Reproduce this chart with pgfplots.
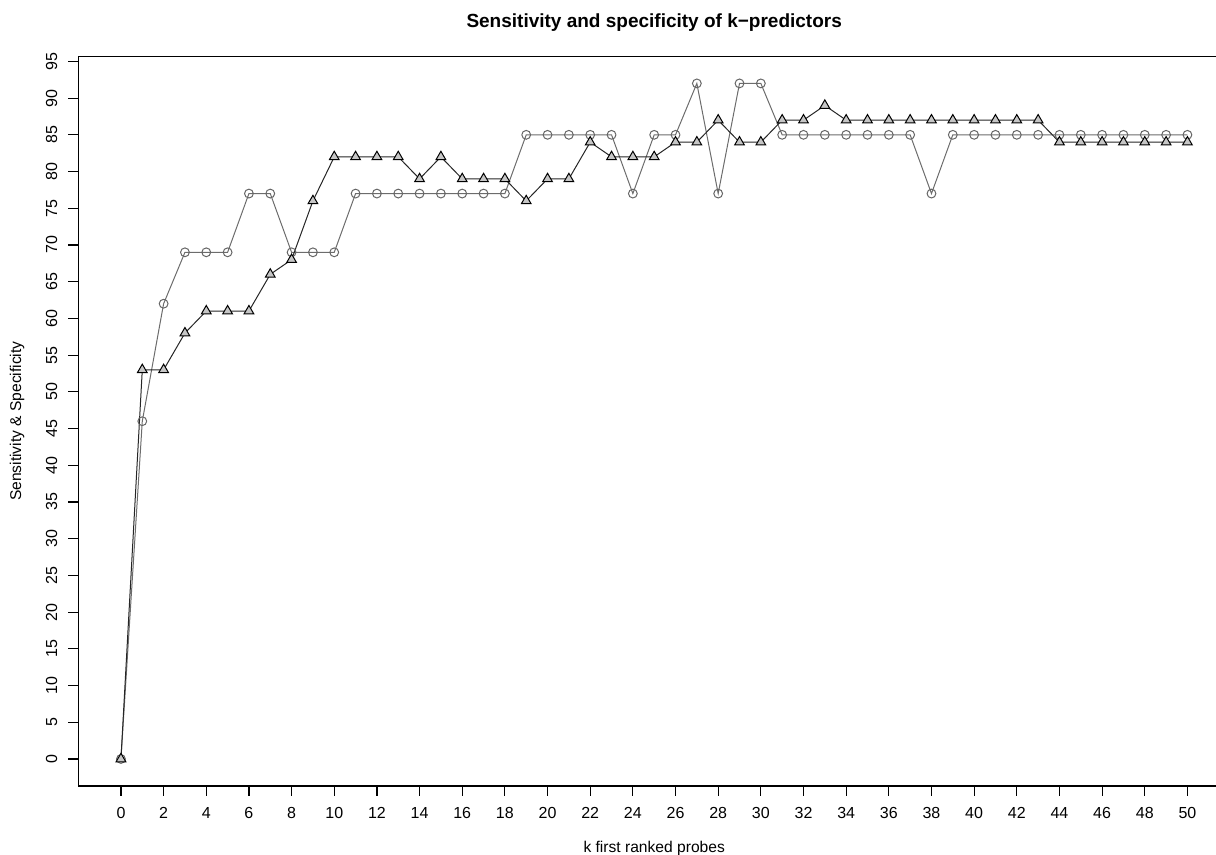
\documentclass[border=0pt]{standalone}
\usepackage{pgfplots}
\pgfplotsset{compat=1.18}
\usepackage{fontspec}
\setmainfont{Liberation Sans}
\begin{document}
\begin{tikzpicture}
\begin{axis}[
  name=ax,
  at={(0,0)}, anchor=south west,
  scale only axis,
  width=575.9pt, height=364.8pt,
  xmin=-2, xmax=52, ymin=-3.68, ymax=95.68,
  xtick={0,2,...,50}, ytick={0,5,...,95},
  xtick pos=bottom, ytick pos=left,
  tick align=outside,
  major tick length=5pt,
  tick style={black, line width=0.6pt},
  axis line style={black, line width=0.7pt},
  /pgf/number format/assume math mode=true,
  ticklabel style={font=\fontsize{8}{9}\selectfont},
  xticklabel style={yshift=-2pt},
  yticklabel style={rotate=90, anchor=south, xshift=0pt, yshift=2pt},
  every axis title shift=0pt,
  title={Sensitivity and specificity of k−predictors},
  title style={font=\fontsize{9.5}{11}\selectfont\bfseries, at={(axis description cs:0.5,1.047)}, anchor=center},
  xlabel={k first ranked probes},
  xlabel style={font=\fontsize{7.8}{9}\selectfont, at={(axis description cs:0.5,-0.0863)}, anchor=center},
  ylabel={Sensitivity \& Specificity},
  ylabel style={font=\fontsize{7.8}{9}\selectfont, at={(axis description cs:-0.0532,0.5)}, anchor=center, rotate=0},
  clip=false,
]
\addplot[gray!85!black, line width=0.5pt, mark=o, mark size=2.2pt, mark options={gray!80!black, line width=0.5pt, fill=white}]
coordinates {
(0,0)(1,46)(2,62)(3,69)(4,69)(5,69)(6,77)(7,77)(8,69)(9,69)(10,69)
(11,77)(12,77)(13,77)(14,77)(15,77)(16,77)(17,77)(18,77)(19,85)(20,85)
(21,85)(22,85)(23,85)(24,77)(25,85)(26,85)(27,92)(28,77)(29,92)(30,92)
(31,85)(32,85)(33,85)(34,85)(35,85)(36,85)(37,85)(38,77)(39,85)(40,85)
(41,85)(42,85)(43,85)(44,85)(45,85)(46,85)(47,85)(48,85)(49,85)(50,85)
};
\addplot[black!85, line width=0.5pt, mark=triangle*, mark size=2.8pt, mark options={draw=black, fill=gray!45, line width=0.5pt}]
coordinates {
(0,0)(1,53)(2,53)(3,58)(4,61)(5,61)(6,61)(7,66)(8,68)(9,76)(10,82)
(11,82)(12,82)(13,82)(14,79)(15,82)(16,79)(17,79)(18,79)(19,76)(20,79)
(21,79)(22,84)(23,82)(24,82)(25,82)(26,84)(27,84)(28,87)(29,84)(30,84)
(31,87)(32,87)(33,89)(34,87)(35,87)(36,87)(37,87)(38,87)(39,87)(40,87)
(41,87)(42,87)(43,87)(44,84)(45,84)(46,84)(47,84)(48,84)(49,84)(50,84)
};
\end{axis}
\pgfresetboundingbox
\useasboundingbox (-39.15pt,-34.5pt) rectangle (568.85pt,393pt);
\end{tikzpicture}
\end{document}
